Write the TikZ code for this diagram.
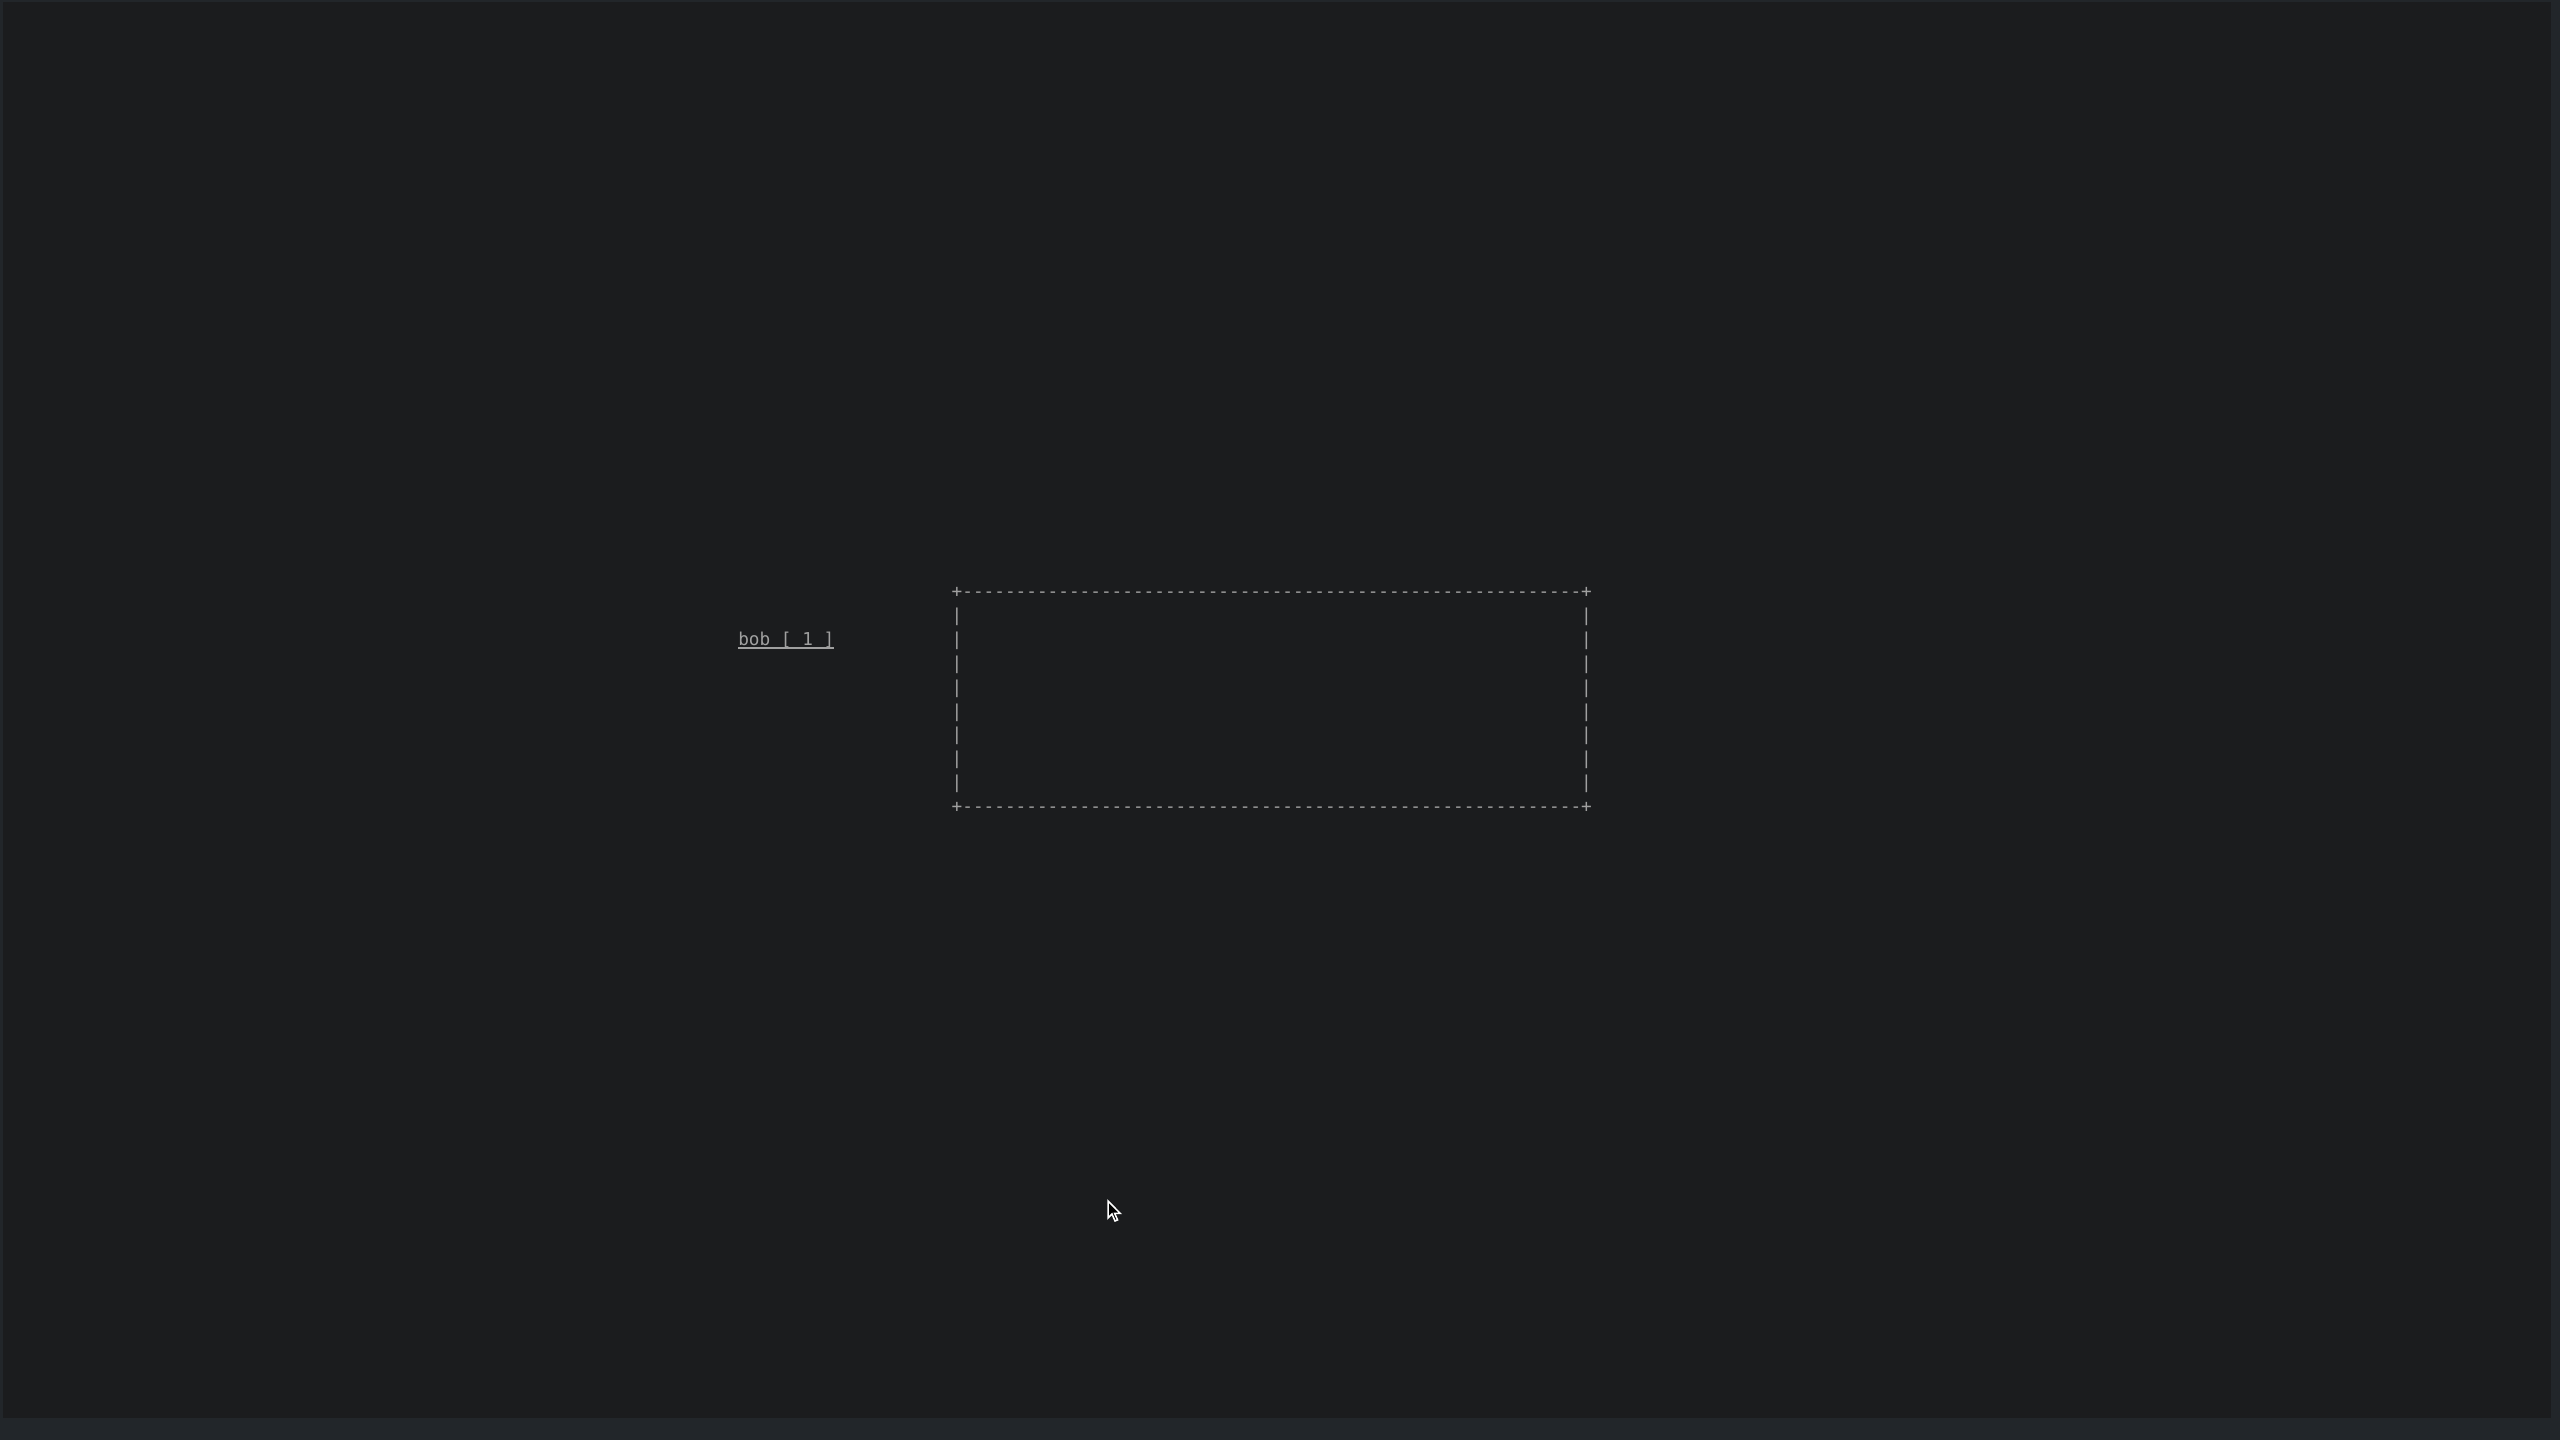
\documentclass[tikz,border=0pt]{standalone}
\usepackage{fontspec}
\setmonofont{DejaVu Sans Mono}
\definecolor{framebg}{HTML}{22262A}
\definecolor{canvasbg}{HTML}{1B1C1E}
\definecolor{asciigrey}{HTML}{A0A0A0}
\tikzset{
  ch/.style={inner sep=0pt, outer sep=0pt, anchor=base, text=asciigrey,
    font=\ttfamily\fontsize{8.86}{12}\selectfont},
  labeltext/.style={ch, anchor=base west},
  uline/.style={draw=asciigrey, line width=0.7pt},
  pointer/.style={fill=black, draw=white, line width=0.75pt, line join=miter}
}
\begin{document}
\begin{tikzpicture}[x=0.5pt,y=-0.5pt]
\useasboundingbox (0,0) rectangle (2560,1440);
\fill[framebg] (0,0) rectangle (2560,1440);
\fill[canvasbg] (3,2) rectangle (2551,1418);
% label
\node[labeltext] (bob) at (738.3,645.3) {bob [ 1 ]};
\draw[uline] ([yshift=-1.35pt]bob.base west) -- ([yshift=-1.35pt]bob.base east);
% corners
\node[ch] (tl) at (957,597.5) {+};
\node[ch] (tr) at ({957+10.67*59},597.5) {+};
\node[ch] (bl) at (957,812.6) {+};
\node[ch] (br) at ({957+10.67*59},812.6) {+};
% horizontal edges
\foreach \c in {1,...,58} {
  \node[ch] (top\c) at ({957+10.67*\c},597.5) {-};
  \node[ch] (bot\c) at ({957+10.67*\c},812.6) {-};
}
% vertical edges
\foreach \r in {1,...,8} {
  \node[ch] (left\r) at (957,{597.5+23.9*\r}) {|};
  \node[ch] (right\r) at ({957+10.67*59},{597.5+23.9*\r}) {|};
}
% mouse pointer
\filldraw[pointer] (1108,1201) -- ++(0,17) -- ++(4,-4) -- ++(3,7) -- ++(2.6,-1.1) -- ++(-3,-6.6) -- ++(5.6,0) -- cycle;
\end{tikzpicture}
\end{document}
